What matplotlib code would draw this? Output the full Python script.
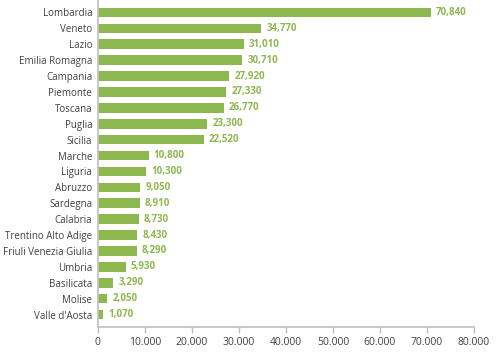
import matplotlib
matplotlib.use("Agg")
import matplotlib.pyplot as plt
from matplotlib.ticker import FuncFormatter

regions = ["Lombardia", "Veneto", "Lazio", "Emilia Romagna", "Campania", "Piemonte",
           "Toscana", "Puglia", "Sicilia", "Marche", "Liguria", "Abruzzo", "Sardegna",
           "Calabria", "Trentino Alto Adige", "Friuli Venezia Giulia", "Umbria",
           "Basilicata", "Molise", "Valle d'Aosta"]
values = [70840, 34770, 31010, 30710, 27920, 27330, 26770, 23300, 22520, 10800,
          10300, 9050, 8910, 8730, 8430, 8290, 5930, 3290, 2050, 1070]
xticks = [0, 10000, 20000, 30000, 40000, 50000, 60000, 70000, 80000]

plt.rcParams['font.family'] = ['Open Sans', 'DejaVu Sans']
green = "#8DB850"
gray = "#BFBFBF"
txt = "#404040"

fig = plt.figure(figsize=(4.99, 3.57), dpi=100)
ax = fig.add_axes([0.196, 0.084, 0.754, 0.916])
n = len(regions)
ypos = list(range(n))
ax.barh(ypos, values, height=0.6, color=green)
ax.set_ylim(n - 1 + 0.78, -0.78)
ax.set_xlim(0, 80000)
ax.set_yticks(ypos)
ax.set_yticklabels(regions, fontsize=7, color=txt)
ax.set_xticks(xticks)
ax.xaxis.set_major_formatter(FuncFormatter(lambda v, p: f"{int(v):,}".replace(",", ".")))
ax.tick_params(axis='x', labelsize=7.5, labelcolor=txt, color=gray, length=4, width=1, pad=3)
ax.tick_params(axis='y', length=0, pad=4)
for s in ["top", "right"]:
    ax.spines[s].set_visible(False)
for s in ["left", "bottom"]:
    ax.spines[s].set_color(gray)
    ax.spines[s].set_linewidth(1.2)
for y, v in zip(ypos, values):
    ax.text(v + 1100, y, f"{v:,}", va="center", ha="left", fontsize=7,
            fontweight="bold", color=green)
fig.savefig("out.png", dpi=100)
